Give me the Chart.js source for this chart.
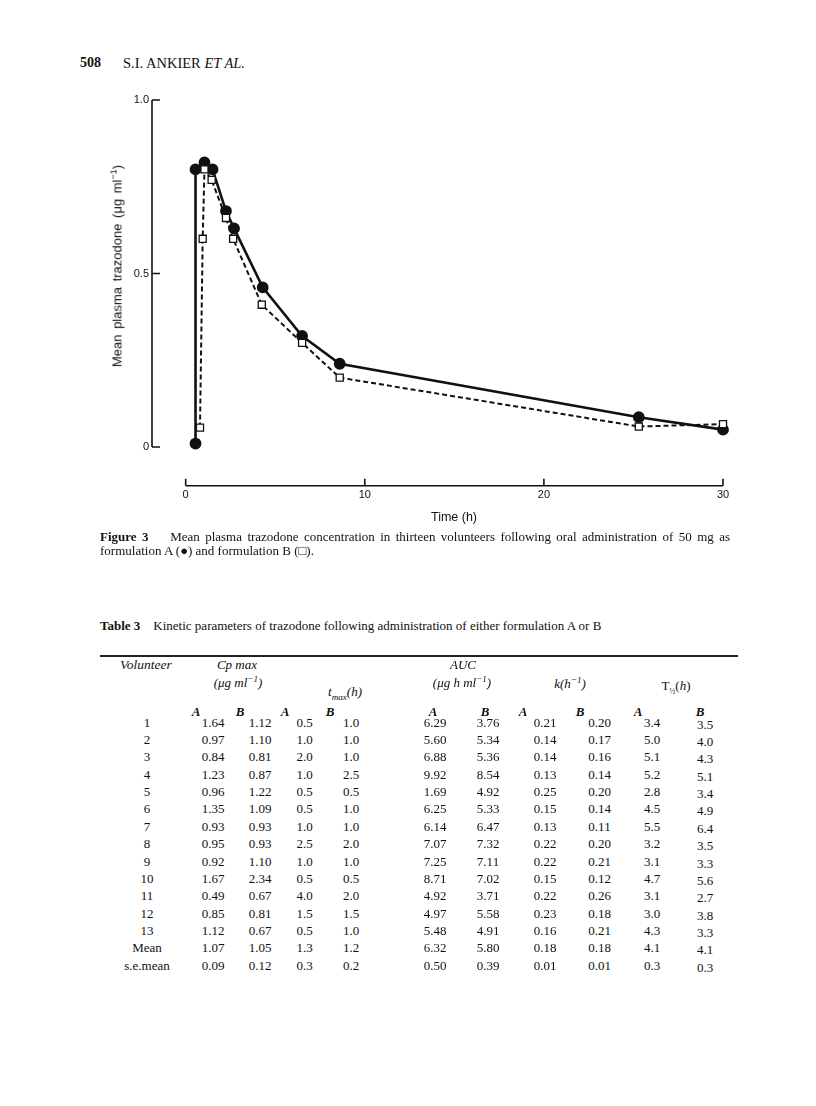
<!DOCTYPE html>
<html>
<head>
<meta charset="utf-8">
<script src="https://cdn.jsdelivr.net/npm/chart.js@4.4.1/dist/chart.umd.min.js"></script>
<style>
  html, body { margin: 0; padding: 0; background: #fff; }
  body { width: 816px; height: 1106px; position: relative; overflow: hidden; color: #111; }
  #plot { position: absolute; left: 0; top: 0; }
  .t { position: absolute; white-space: nowrap; line-height: 16px; }
  .serif { font-family: "Liberation Serif", "Times New Roman", serif; }
  .sans { font-family: "Liberation Sans", Arial, sans-serif; }
  .c { transform: translateX(-50%); }
  #ytitle { position: absolute; left: 117px; top: 266px; transform: translate(-50%, -50%) rotate(-90deg);
            font: 13px "Liberation Sans", Arial, sans-serif; word-spacing: 2px; white-space: nowrap; }
  #xtitle { position: absolute; left: 454px; top: 517px; transform: translate(-50%, -50%);
            font: 12.5px "Liberation Sans", Arial, sans-serif; white-space: nowrap; }
  .cap { position: absolute; left: 100px; width: 630px; font: 13px "Liberation Serif", "Times New Roman", serif;
         line-height: 14px; white-space: nowrap; }
  #rule { position: absolute; left: 100px; top: 655px; width: 638px; height: 2px; background: #222; }
  sup { font-size: 70%; line-height: 0; }
</style>
</head>
<body>
<div class="t serif" style="left:80px; top:55px; font-size:14px; font-weight:bold;">508</div>
<div class="t serif" style="left:123px; top:55px; font-size:14.5px;">S.I. ANKIER <i>ET AL.</i></div>

<canvas id="plot" width="816" height="530"></canvas>
<div id="ytitle">Mean plasma trazodone (μg ml<sup>−1</sup>)</div>
<div id="xtitle">Time (h)</div>

<div class="cap" style="top:530px; text-align:justify; text-align-last:justify;"><b>Figure 3</b>&nbsp;&nbsp;&nbsp; Mean plasma trazodone concentration in thirteen volunteers following oral administration of 50 mg as</div>
<div class="cap" style="top:544px;">formulation A (●) and formulation B (□).</div>

<div class="t serif" style="left:100px; top:618px; font-size:13px;"><b>Table 3</b>&nbsp;&nbsp;&nbsp; Kinetic parameters of trazodone following administration of either formulation A or B</div>
<div id="rule"></div>
<div id="table"></div>

<script>
// concentration-time curves
const timeA = [0.55, 0.55, 1.05, 1.5, 2.25, 2.7, 4.3, 6.5, 8.6, 25.3, 30];
const concA = [0.01, 0.80, 0.82, 0.80, 0.68, 0.63, 0.46, 0.32, 0.24, 0.086, 0.05];
const timeB = [0.8, 0.95, 1.05, 1.45, 2.25, 2.65, 4.25, 6.5, 8.6, 25.3, 30];
const concB = [0.056, 0.60, 0.80, 0.77, 0.66, 0.60, 0.41, 0.30, 0.20, 0.059, 0.066];
const xTicks = [0, 10, 20, 30];
const yTicks = [0, 0.5, 1.0];

// table 3
const volunteers = ['1','2','3','4','5','6','7','8','9','10','11','12','13','Mean','s.e.mean'];
const cpA = ['1.64','0.97','0.84','1.23','0.96','1.35','0.93','0.95','0.92','1.67','0.49','0.85','1.12','1.07','0.09'];
const cpB = ['1.12','1.10','0.81','0.87','1.22','1.09','0.93','0.93','1.10','2.34','0.67','0.81','0.67','1.05','0.12'];
const tmaxA = ['0.5','1.0','2.0','1.0','0.5','0.5','1.0','2.5','1.0','0.5','4.0','1.5','0.5','1.3','0.3'];
const tmaxB = ['1.0','1.0','1.0','2.5','0.5','1.0','1.0','2.0','1.0','0.5','2.0','1.5','1.0','1.2','0.2'];
const aucA = ['6.29','5.60','6.88','9.92','1.69','6.25','6.14','7.07','7.25','8.71','4.92','4.97','5.48','6.32','0.50'];
const aucB = ['3.76','5.34','5.36','8.54','4.92','5.33','6.47','7.32','7.11','7.02','3.71','5.58','4.91','5.80','0.39'];
const kA = ['0.21','0.14','0.14','0.13','0.25','0.15','0.13','0.22','0.22','0.15','0.22','0.23','0.16','0.18','0.01'];
const kB = ['0.20','0.17','0.16','0.14','0.20','0.14','0.11','0.20','0.21','0.12','0.26','0.18','0.21','0.18','0.01'];
const halfA = ['3.4','5.0','5.1','5.2','2.8','4.5','5.5','3.2','3.1','4.7','3.1','3.0','4.3','4.1','0.3'];
const halfB = ['3.5','4.0','4.3','5.1','3.4','4.9','6.4','3.5','3.3','5.6','2.7','3.8','3.3','4.1','0.3'];

const toPts = (xs, ys) => xs.map((x, i) => ({ x: x, y: ys[i] }));

// draws the detached axis lines with inward ticks
const axesLines = {
  id: 'axesLines',
  afterDraw(chart) {
    const ctx = chart.ctx, xs = chart.scales.x, ys = chart.scales.y, a = chart.chartArea;
    ctx.save();
    ctx.strokeStyle = '#111';
    ctx.lineWidth = 1.6;
    ctx.beginPath();
    ctx.moveTo(a.left, ys.getPixelForValue(yTicks[yTicks.length - 1]));
    ctx.lineTo(a.left, ys.getPixelForValue(0));
    yTicks.forEach(v => {
      const y = ys.getPixelForValue(v);
      ctx.moveTo(a.left, y); ctx.lineTo(a.left + 8, y);
    });
    const yb = a.bottom;
    ctx.moveTo(xs.getPixelForValue(xTicks[0]), yb);
    ctx.lineTo(xs.getPixelForValue(xTicks[xTicks.length - 1]), yb);
    xTicks.forEach(v => {
      const x = xs.getPixelForValue(v);
      ctx.moveTo(x, yb); ctx.lineTo(x, yb - 7);
    });
    ctx.stroke();
    ctx.restore();
  }
};

new Chart(document.getElementById('plot'), {
  type: 'scatter',
  data: {
    datasets: [{
      label: 'Formulation A',
      data: toPts(timeA, concA),
      showLine: true,
      borderColor: '#111',
      borderWidth: 2.6,
      pointStyle: 'circle',
      pointRadius: 4.6,
      pointBackgroundColor: '#111',
      pointBorderColor: '#111',
      order: 2,
      clip: false
    }, {
      label: 'Formulation B',
      data: toPts(timeB, concB),
      showLine: true,
      borderColor: '#111',
      borderWidth: 2,
      borderDash: [5, 3],
      pointStyle: 'rect',
      pointRadius: 5,
      pointBorderWidth: 1.3,
      pointBackgroundColor: '#fff',
      pointBorderColor: '#111',
      order: 1,
      clip: false
    }]
  },
  options: {
    responsive: false,
    animation: false,
    devicePixelRatio: 1,
    layout: { padding: { left: 0, top: 100, right: 93, bottom: 0 } },
    plugins: { legend: { display: false }, tooltip: { enabled: false } },
    scales: {
      x: {
        type: 'linear', min: -1.88, max: 30,
        grid: { display: false, drawTicks: false }, border: { display: false },
        afterBuildTicks: s => { s.ticks = xTicks.map(v => ({ value: v })); },
        afterFit: s => { s.height = 44.3; },
        ticks: { padding: 3, color: '#111', font: { family: 'Liberation Sans', size: 11 } }
      },
      y: {
        type: 'linear', min: -0.1115, max: 1.0,
        grid: { display: false, drawTicks: false }, border: { display: false },
        afterBuildTicks: s => { s.ticks = yTicks.map(v => ({ value: v })); },
        afterFit: s => { s.width = 152; },
        ticks: { padding: 3, color: '#111', font: { family: 'Liberation Sans', size: 11 },
                 callback: v => v === 0 ? '0' : v.toFixed(1) }
      }
    }
  },
  plugins: [axesLines]
});

// table layout
const tbl = document.getElementById('table');
function cell(html, x, y, style) {
  const d = document.createElement('div');
  d.className = 't serif c';
  d.style.left = x + 'px';
  d.style.top = (y - 8) + 'px';
  d.style.fontSize = '13px';
  if (style) d.style.cssText += style;
  d.innerHTML = html;
  tbl.appendChild(d);
}
const it = 'font-style:italic;';
const left = document.createElement('div');
left.className = 't serif';
left.style.cssText = 'left:120px; top:657px; font-size:13.5px; font-style:italic;';
left.textContent = 'Volunteer';
tbl.appendChild(left);
cell('Cp max', 237, 665, it);
cell('(<i>μg ml</i><sup>−1</sup>)', 238, 683, it);
cell('<i>t</i><sub style="font-size:70%">max</sub>(<i>h</i>)', 345, 692, it);
cell('AUC', 463, 665, it);
cell('(μg h ml<sup>−1</sup>)', 462, 683, it);
cell('k(h<sup>−1</sup>)', 570, 684, it);
cell('T<sub style="font-size:60%">½</sub>(<i>h</i>)', 676, 686, '');
const abX = [196, 240, 285, 330, 433, 485, 523, 580, 638, 700];
abX.forEach((x, i) => cell(i % 2 ? 'B' : 'A', x, 712, it + 'font-weight:bold;'));

const cols = [volunteers, cpA, cpB, tmaxA, tmaxB, aucA, aucB, kA, kB, halfA, halfB];
const colX = [147, 213, 260, 304.5, 351, 435, 488, 545, 599.5, 652, 705];
volunteers.forEach((_, r) => {
  const y = 722.7 + r * 17.35;
  cols.forEach((col, c) => cell(col[r], colX[c], y + (c === 10 ? 2 : 0)));
});
</script>
</body>
</html>
